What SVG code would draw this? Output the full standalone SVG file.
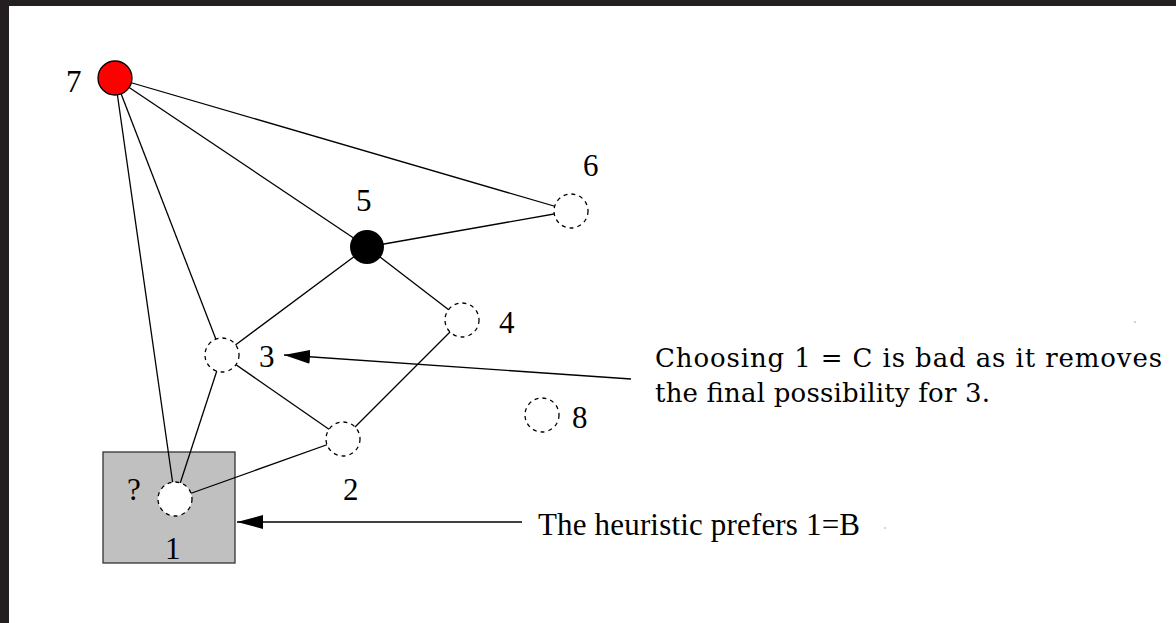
<svg xmlns="http://www.w3.org/2000/svg" width="1176" height="623" viewBox="0 0 1176 623">
<style>
.edge{stroke:#000;stroke-width:1.3;fill:none}
.lbl{font-family:"Liberation Serif","Times New Roman",serif;font-size:31px;fill:#000}
.cm{font-family:"DejaVu Serif","Liberation Serif",serif;font-size:26px;fill:#000}
.dash{fill:#fff;stroke:#000;stroke-width:1.3;stroke-dasharray:4 4}
</style>
<defs>
<marker id="ah" markerUnits="userSpaceOnUse" markerWidth="28" markerHeight="16" refX="26" refY="7" orient="auto">
<path d="M0,0 L26,7 L0,14 z" fill="#000"/>
</marker>
</defs>
<rect x="0" y="0" width="1176" height="623" fill="#fff"/>
<rect x="0" y="0" width="1176" height="6" fill="#231f20"/>
<rect x="0" y="0" width="9" height="623" fill="#231f20"/>
<g id="box1">
<rect x="103" y="452" width="132" height="111" fill="#c0c0c0" stroke="#333" stroke-width="1.3"/>
</g>
<g id="connectors">
<line class="edge" x1="115" y1="78" x2="571" y2="211"/>
<line class="edge" x1="115" y1="78" x2="367" y2="247"/>
<line class="edge" x1="115" y1="78" x2="222" y2="355"/>
<line class="edge" x1="115" y1="78" x2="175" y2="499"/>
<line class="edge" x1="367" y1="247" x2="571" y2="211"/>
<line class="edge" x1="367" y1="247" x2="222" y2="355"/>
<line class="edge" x1="367" y1="247" x2="462" y2="320"/>
<line class="edge" x1="462" y1="320" x2="343" y2="439"/>
<line class="edge" x1="222" y1="355" x2="343" y2="439"/>
<line class="edge" x1="222" y1="355" x2="175" y2="499"/>
<line class="edge" x1="343" y1="439" x2="175" y2="499"/>
<line class="edge" x1="631" y1="379" x2="284" y2="355" marker-end="url(#ah)"/>
<line class="edge" x1="522" y1="522" x2="237" y2="522" marker-end="url(#ah)"/>
</g>
<g id="n7"><circle cx="115" cy="78" r="17" fill="#f00" stroke="#000" stroke-width="1.3"/><text class="lbl" x="66" y="92">7</text></g>
<g id="n5"><circle cx="367" cy="247" r="17" fill="#000"/><text class="lbl" x="356" y="211">5</text></g>
<g id="n6"><circle class="dash" cx="571" cy="211" r="17"/><text class="lbl" x="583" y="176">6</text></g>
<g id="n4"><circle class="dash" cx="462" cy="320" r="17"/><text class="lbl" x="499" y="333">4</text></g>
<g id="n3"><circle class="dash" cx="222" cy="355" r="17"/><text class="lbl" x="259" y="367">3</text></g>
<g id="n2"><circle class="dash" cx="343" cy="439" r="17"/><text class="lbl" x="343" y="500">2</text></g>
<g id="n8"><circle class="dash" cx="542" cy="415" r="17"/><text class="lbl" x="572" y="428">8</text></g>
<g id="n1"><circle class="dash" cx="175" cy="499" r="17"/><text class="lbl" x="127" y="500">?</text><text class="lbl" x="165" y="559">1</text></g>
<g id="note1">
<text class="cm" x="655" y="367" textLength="507">Choosing 1 = C is bad as it removes</text>
<text class="cm" x="655" y="402" textLength="335">the final possibility for 3.</text>
</g>
<g id="note2">
<text class="lbl" x="538" y="535" textLength="322">The heuristic prefers 1=B</text>
</g>
<circle cx="1135" cy="322" r="0.8" fill="#999"/>
<circle cx="885" cy="528" r="0.8" fill="#999"/>
</svg>
